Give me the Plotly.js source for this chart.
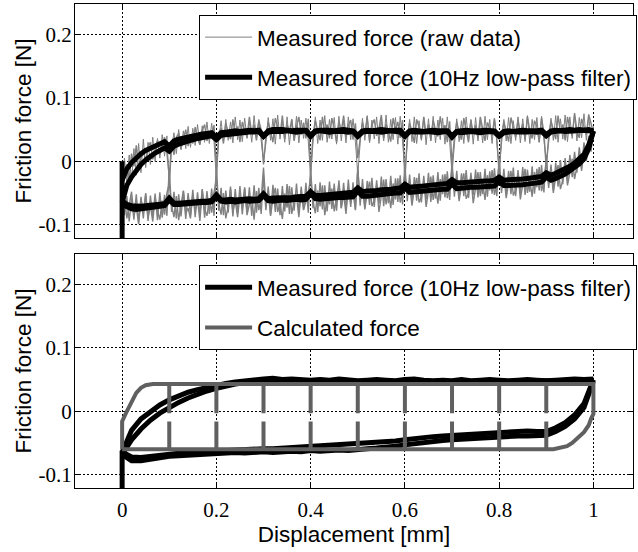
<!DOCTYPE html>
<html><head><meta charset="utf-8">
<script src="https://cdn.plot.ly/plotly-3.0.1.min.js"></script>
<style>html,body{margin:0;padding:0;background:#fff}#chart{width:638px;height:552px}</style>
</head><body><div id="chart"></div>
<script>
// ---- tick labels ----
const xTickVals=[0,0.2,0.4,0.6,0.8,1];
const xTickText=['0','0.2','0.4','0.6','0.8','1'];
const yTickVals=[-0.1,0,0.1,0.2];
const yTickText=['-0.1','0','0.1','0.2'];

// ---- series names ----
const nameRaw='Measured force (raw data)';
const nameFilt='Measured force (10Hz low-pass filter)';
const nameCalc='Calculated force';

// ---- displacement grids [mm] ----
const gridX=[0,0.01,0.02,0.03,0.04,0.05,0.06,0.07,0.08,0.09,0.1,0.11,0.12,0.13,0.14,0.15,0.16,0.17,0.18,0.19,0.2,0.21,0.22,0.23,0.24,0.25,0.26,0.27,0.28,0.29,0.3,0.31,0.32,0.33,0.34,0.35,0.36,0.37,0.38,0.39,0.4,0.41,0.42,0.43,0.44,0.45,0.46,0.47,0.48,0.49,0.5,0.51,0.52,0.53,0.54,0.55,0.56,0.57,0.58,0.59,0.6,0.61,0.62,0.63,0.64,0.65,0.66,0.67,0.68,0.69,0.7,0.71,0.72,0.73,0.74,0.75,0.76,0.77,0.78,0.79,0.8,0.81,0.82,0.83,0.84,0.85,0.86,0.87,0.88,0.89,0.9,0.91,0.92,0.93,0.94,0.95,0.96,0.97,0.98,0.99,1];
const gridRaw=[0,0.005,0.01,0.015,0.02,0.025,0.03,0.035,0.04,0.045,0.05,0.055,0.06,0.065,0.07,0.075,0.08,0.085,0.09,0.095,0.1,0.105,0.11,0.115,0.12,0.125,0.13,0.135,0.14,0.145,0.15,0.155,0.16,0.165,0.17,0.175,0.18,0.185,0.19,0.195,0.2,0.205,0.21,0.215,0.22,0.225,0.23,0.235,0.24,0.245,0.25,0.255,0.26,0.265,0.27,0.275,0.28,0.285,0.29,0.295,0.3,0.305,0.31,0.315,0.32,0.325,0.33,0.335,0.34,0.345,0.35,0.355,0.36,0.365,0.37,0.375,0.38,0.385,0.39,0.395,0.4,0.405,0.41,0.415,0.42,0.425,0.43,0.435,0.44,0.445,0.45,0.455,0.46,0.465,0.47,0.475,0.48,0.485,0.49,0.495,0.5,0.505,0.51,0.515,0.52,0.525,0.53,0.535,0.54,0.545,0.55,0.555,0.56,0.565,0.57,0.575,0.58,0.585,0.59,0.595,0.6,0.605,0.61,0.615,0.62,0.625,0.63,0.635,0.64,0.645,0.65,0.655,0.66,0.665,0.67,0.675,0.68,0.685,0.69,0.695,0.7,0.705,0.71,0.715,0.72,0.725,0.73,0.735,0.74,0.745,0.75,0.755,0.76,0.765,0.77,0.775,0.78,0.785,0.79,0.795,0.8,0.805,0.81,0.815,0.82,0.825,0.83,0.835,0.84,0.845,0.85,0.855,0.86,0.865,0.87,0.875,0.88,0.885,0.89,0.895,0.9,0.905,0.91,0.915,0.92,0.925,0.93,0.935,0.94,0.945,0.95,0.955,0.96,0.965,0.97,0.975,0.98,0.985,0.99,0.995,1];
const gridBottom=[0,0.02,0.04,0.06,0.08,0.1,0.12,0.14,0.16,0.18,0.2,0.22,0.24,0.26,0.28,0.3,0.32,0.34,0.36,0.38,0.4,0.42,0.44,0.46,0.48,0.5,0.52,0.54,0.56,0.58,0.6,0.62,0.64,0.66,0.68,0.7,0.72,0.74,0.76,0.78,0.8,0.82,0.84,0.86,0.88,0.9,0.92,0.94,0.96,0.98,1];
const startX=[0,0];
const topStartY=[-0.125,0.000];
const bottomStartY=[-0.125,-0.062];

// ---- top: raw measured force [N], two cycles ----
const rawUpper=[-0.020,0.005,-0.035,0.010,-0.030,0.020,-0.022,0.028,-0.018,0.035,-0.010,0.030,-0.005,0.038,0.000,0.036,0.005,0.042,0.008,0.040,
-0.040,0.020,0.045,0.012,0.050,0.018,0.048,0.020,0.055,0.022,0.052,0.025,0.058,0.027,0.056,0.030,0.062,0.028,0.060,0.032,
-0.030,0.035,0.064,0.030,0.066,0.033,0.062,0.029,0.070,0.034,0.065,0.031,0.068,0.036,0.063,0.030,0.072,0.035,0.066,0.032,
0.000,0.028,0.069,0.033,0.067,0.027,0.073,0.035,0.064,0.030,0.070,0.026,0.066,0.034,0.071,0.029,0.065,0.036,0.068,0.031,
-0.025,0.030,0.070,0.028,0.065,0.033,0.072,0.030,0.066,0.035,0.069,0.027,0.071,0.032,0.064,0.029,0.070,0.034,0.067,0.030,
-0.020,0.028,0.068,0.033,0.072,0.029,0.065,0.035,0.070,0.028,0.067,0.032,0.073,0.030,0.066,0.034,0.069,0.027,0.071,0.031,
-0.015,0.027,0.066,0.031,0.070,0.028,0.064,0.033,0.069,0.026,0.067,0.032,0.071,0.029,0.065,0.034,0.068,0.027,0.070,0.030,
-0.020,0.026,0.067,0.031,0.064,0.028,0.070,0.033,0.066,0.027,0.069,0.032,0.065,0.029,0.071,0.034,0.066,0.028,0.068,0.031,
-0.010,0.027,0.066,0.032,0.069,0.028,0.064,0.033,0.070,0.029,0.067,0.031,0.072,0.028,0.066,0.034,0.069,0.030,0.071,0.033,
0.000,0.029,0.068,0.033,0.072,0.030,0.067,0.035,0.073,0.031,0.070,0.036,0.074,0.032,0.069,0.037,0.075,0.033,0.071,0.036,0.050];
const rawLower=[-0.060,-0.085,-0.055,-0.095,-0.058,-0.092,-0.052,-0.096,-0.056,-0.090,-0.050,-0.094,-0.054,-0.088,-0.051,-0.093,-0.049,-0.089,-0.053,-0.086,
-0.010,-0.080,-0.048,-0.090,-0.052,-0.087,-0.046,-0.091,-0.050,-0.085,-0.045,-0.088,-0.049,-0.084,-0.044,-0.089,-0.047,-0.083,-0.043,-0.086,
-0.005,-0.078,-0.042,-0.085,-0.046,-0.081,-0.040,-0.087,-0.044,-0.082,-0.039,-0.084,-0.043,-0.080,-0.041,-0.086,-0.038,-0.081,-0.042,-0.083,
-0.022,-0.077,-0.040,-0.084,-0.037,-0.080,-0.043,-0.085,-0.039,-0.079,-0.036,-0.083,-0.041,-0.078,-0.035,-0.082,-0.040,-0.077,-0.034,-0.081,
-0.010,-0.074,-0.036,-0.080,-0.033,-0.076,-0.038,-0.079,-0.032,-0.075,-0.035,-0.078,-0.030,-0.074,-0.034,-0.077,-0.029,-0.072,-0.033,-0.076,
-0.008,-0.070,-0.028,-0.073,-0.031,-0.069,-0.026,-0.072,-0.030,-0.067,-0.024,-0.071,-0.028,-0.066,-0.023,-0.069,-0.027,-0.064,-0.022,-0.068,
-0.005,-0.063,-0.021,-0.066,-0.025,-0.062,-0.019,-0.065,-0.023,-0.060,-0.018,-0.064,-0.022,-0.059,-0.017,-0.062,-0.021,-0.057,-0.016,-0.061,
0.000,-0.056,-0.015,-0.059,-0.019,-0.055,-0.014,-0.058,-0.018,-0.053,-0.013,-0.057,-0.017,-0.052,-0.012,-0.056,-0.016,-0.051,-0.011,-0.055,
0.005,-0.050,-0.012,-0.054,-0.015,-0.052,-0.010,-0.055,-0.014,-0.050,-0.009,-0.053,-0.013,-0.048,-0.008,-0.051,-0.012,-0.046,-0.006,-0.049,
0.010,-0.042,-0.005,-0.045,-0.002,-0.040,0.002,-0.036,0.005,-0.030,0.010,-0.025,0.015,-0.018,0.022,-0.010,0.030,0.000,0.040,0.015,0.055];
const rawUpper2=[-0.040,-0.015,-0.005,-0.028,0.012,-0.008,0.025,-0.012,0.005,0.018,-0.002,0.022,0.030,0.003,0.015,0.033,0.010,0.025,0.038,0.014,
-0.025,0.030,0.010,0.038,0.044,0.020,0.033,0.050,0.024,0.040,0.028,0.054,0.036,0.026,0.048,0.058,0.032,0.045,0.038,0.057,
-0.010,0.040,0.052,0.028,0.060,0.045,0.035,0.066,0.042,0.055,0.030,0.062,0.048,0.038,0.070,0.044,0.058,0.033,0.064,0.050,
-0.005,0.038,0.062,0.045,0.030,0.068,0.052,0.040,0.072,0.035,0.058,0.047,0.066,0.032,0.055,0.070,0.042,0.061,0.036,0.067,
-0.015,0.040,0.064,0.050,0.033,0.070,0.045,0.058,0.036,0.068,0.052,0.030,0.063,0.047,0.072,0.038,0.056,0.065,0.034,0.060,
0.005,0.035,0.061,0.044,0.070,0.032,0.057,0.066,0.040,0.052,0.073,0.036,0.059,0.046,0.031,0.068,0.050,0.062,0.037,0.065,
-0.030,0.038,0.060,0.048,0.029,0.066,0.054,0.035,0.070,0.043,0.058,0.033,0.064,0.050,0.039,0.071,0.045,0.057,0.030,0.063,
-0.005,0.037,0.062,0.046,0.034,0.068,0.051,0.030,0.065,0.044,0.057,0.036,0.070,0.049,0.032,0.061,0.053,0.040,0.067,0.035,
-0.020,0.040,0.063,0.047,0.031,0.069,0.052,0.038,0.066,0.043,0.059,0.034,0.071,0.048,0.036,0.064,0.055,0.030,0.068,0.045,
-0.012,0.039,0.064,0.050,0.035,0.072,0.046,0.058,0.033,0.070,0.052,0.040,0.076,0.048,0.037,0.067,0.056,0.042,0.074,0.060,0.045];
const rawLower2=[-0.075,-0.058,-0.090,-0.066,-0.048,-0.085,-0.072,-0.099,-0.060,-0.080,-0.052,-0.088,-0.070,-0.095,-0.057,-0.078,-0.092,-0.062,-0.084,-0.050,
-0.035,-0.070,-0.088,-0.055,-0.093,-0.067,-0.047,-0.082,-0.074,-0.090,-0.052,-0.079,-0.061,-0.094,-0.045,-0.076,-0.086,-0.058,-0.081,-0.049,
-0.028,-0.066,-0.084,-0.050,-0.090,-0.071,-0.044,-0.079,-0.062,-0.088,-0.053,-0.074,-0.041,-0.085,-0.068,-0.057,-0.092,-0.047,-0.077,-0.060,
-0.010,-0.069,-0.048,-0.086,-0.058,-0.042,-0.080,-0.066,-0.091,-0.051,-0.073,-0.039,-0.083,-0.062,-0.055,-0.088,-0.045,-0.076,-0.064,-0.050,
-0.025,-0.063,-0.082,-0.046,-0.071,-0.038,-0.085,-0.057,-0.068,-0.043,-0.079,-0.060,-0.036,-0.074,-0.052,-0.083,-0.041,-0.066,-0.049,-0.077,
-0.015,-0.058,-0.040,-0.076,-0.049,-0.032,-0.071,-0.062,-0.037,-0.080,-0.054,-0.029,-0.068,-0.045,-0.074,-0.035,-0.060,-0.027,-0.065,-0.048,
-0.020,-0.054,-0.033,-0.070,-0.044,-0.026,-0.065,-0.056,-0.030,-0.072,-0.047,-0.024,-0.061,-0.039,-0.067,-0.028,-0.052,-0.020,-0.058,-0.041,
-0.012,-0.048,-0.027,-0.063,-0.038,-0.019,-0.059,-0.050,-0.024,-0.066,-0.042,-0.017,-0.055,-0.033,-0.061,-0.022,-0.046,-0.014,-0.053,-0.036,
-0.005,-0.043,-0.022,-0.058,-0.034,-0.015,-0.054,-0.045,-0.019,-0.060,-0.037,-0.012,-0.050,-0.029,-0.056,-0.017,-0.041,-0.009,-0.047,-0.031,
0.000,-0.036,-0.014,-0.050,-0.025,-0.006,-0.044,-0.030,-0.002,-0.038,-0.018,0.004,-0.028,-0.008,0.012,-0.015,0.020,0.002,0.032,0.022,0.050];

// ---- top: filtered measured force [N], two cycles ----
const filtUpperA=[-0.030,-0.012,-0.002,0.006,0.012,0.017,0.021,0.025,0.028,0.031,
0.024,0.032,0.035,0.037,0.039,0.041,0.042,0.043,0.044,0.045,
0.038,0.045,0.046,0.047,0.048,0.047,0.048,0.049,0.048,0.049,
0.040,0.048,0.050,0.049,0.050,0.049,0.048,0.049,0.050,0.049,
0.041,0.048,0.049,0.050,0.049,0.048,0.049,0.050,0.049,0.048,
0.041,0.048,0.049,0.048,0.049,0.050,0.049,0.048,0.049,0.049,
0.041,0.048,0.049,0.048,0.047,0.048,0.049,0.048,0.047,0.048,
0.040,0.047,0.048,0.049,0.048,0.047,0.048,0.049,0.048,0.048,
0.041,0.047,0.048,0.047,0.048,0.049,0.048,0.047,0.048,0.049,
0.042,0.048,0.049,0.048,0.049,0.050,0.049,0.050,0.049,0.050,
0.048];
const filtLowerA=[-0.068,-0.072,-0.075,-0.076,-0.075,-0.074,-0.073,-0.072,-0.071,-0.070,
-0.061,-0.068,-0.068,-0.067,-0.067,-0.066,-0.066,-0.065,-0.065,-0.064,
-0.056,-0.063,-0.064,-0.063,-0.064,-0.063,-0.062,-0.063,-0.062,-0.062,
-0.054,-0.062,-0.063,-0.062,-0.061,-0.062,-0.061,-0.060,-0.061,-0.060,
-0.051,-0.059,-0.060,-0.059,-0.058,-0.058,-0.057,-0.057,-0.056,-0.056,
-0.047,-0.055,-0.055,-0.054,-0.053,-0.053,-0.052,-0.051,-0.050,-0.050,
-0.042,-0.049,-0.048,-0.048,-0.047,-0.046,-0.046,-0.045,-0.044,-0.044,
-0.036,-0.043,-0.042,-0.042,-0.041,-0.041,-0.040,-0.040,-0.039,-0.039,
-0.032,-0.038,-0.038,-0.038,-0.037,-0.037,-0.036,-0.035,-0.034,-0.033,
-0.025,-0.030,-0.027,-0.024,-0.020,-0.015,-0.010,-0.004,0.004,0.020,
0.048];
const filtUpperB=[-0.065,-0.038,-0.025,-0.014,-0.005,0.002,0.008,0.013,0.017,0.021,
0.016,0.024,0.027,0.030,0.032,0.034,0.036,0.038,0.039,0.040,
0.034,0.041,0.042,0.043,0.044,0.045,0.045,0.046,0.046,0.047,
0.039,0.046,0.047,0.048,0.047,0.048,0.047,0.046,0.047,0.048,
0.039,0.047,0.048,0.047,0.046,0.047,0.048,0.047,0.046,0.047,
0.039,0.046,0.047,0.048,0.047,0.046,0.047,0.048,0.047,0.046,
0.039,0.047,0.046,0.045,0.046,0.047,0.046,0.045,0.046,0.047,
0.038,0.046,0.045,0.046,0.047,0.046,0.045,0.046,0.047,0.046,
0.039,0.045,0.046,0.047,0.046,0.045,0.046,0.047,0.046,0.047,
0.040,0.046,0.047,0.048,0.047,0.048,0.047,0.048,0.049,0.048,
0.047];
const filtLowerB=[-0.062,-0.068,-0.070,-0.071,-0.071,-0.070,-0.069,-0.068,-0.068,-0.067,
-0.058,-0.066,-0.066,-0.065,-0.065,-0.064,-0.064,-0.063,-0.063,-0.062,
-0.053,-0.061,-0.061,-0.060,-0.061,-0.060,-0.060,-0.059,-0.060,-0.059,
-0.051,-0.059,-0.058,-0.058,-0.058,-0.057,-0.057,-0.056,-0.056,-0.055,
-0.048,-0.054,-0.054,-0.053,-0.053,-0.052,-0.051,-0.051,-0.050,-0.049,
-0.042,-0.048,-0.047,-0.047,-0.046,-0.045,-0.045,-0.044,-0.043,-0.042,
-0.036,-0.041,-0.040,-0.040,-0.039,-0.038,-0.037,-0.037,-0.036,-0.035,
-0.029,-0.034,-0.034,-0.033,-0.033,-0.032,-0.032,-0.031,-0.031,-0.030,
-0.025,-0.030,-0.029,-0.029,-0.028,-0.028,-0.027,-0.026,-0.025,-0.024,
-0.018,-0.022,-0.019,-0.016,-0.012,-0.008,-0.003,0.003,0.011,0.026,
0.047];

// ---- bottom: filtered measured force [N], two cycles ----
const botUpperC=[-0.065,-0.030,-0.012,0.000,0.010,0.018,0.025,0.030,0.034,0.038,
0.041,0.044,0.046,0.048,0.050,0.051,0.052,0.050,0.051,0.050,
0.049,0.050,0.049,0.051,0.050,0.048,0.049,0.050,0.049,0.048,
0.050,0.051,0.049,0.048,0.049,0.048,0.050,0.048,0.049,0.050,
0.049,0.048,0.049,0.050,0.049,0.048,0.049,0.050,0.051,0.050,
0.051];
const botUpperD=[-0.068,-0.045,-0.028,-0.014,-0.003,0.006,0.014,0.021,0.027,0.032,
0.036,0.040,0.043,0.045,0.047,0.048,0.047,0.049,0.048,0.047,
0.048,0.047,0.046,0.048,0.047,0.046,0.047,0.048,0.047,0.046,
0.047,0.048,0.046,0.047,0.048,0.046,0.047,0.046,0.048,0.047,
0.046,0.047,0.048,0.047,0.046,0.048,0.047,0.048,0.049,0.048,
0.049];
const botLowerC=[-0.068,-0.078,-0.078,-0.075,-0.073,-0.071,-0.070,-0.069,-0.068,-0.067,
-0.066,-0.066,-0.065,-0.066,-0.064,-0.064,-0.065,-0.064,-0.063,-0.064,
-0.062,-0.063,-0.062,-0.061,-0.062,-0.060,-0.059,-0.058,-0.057,-0.055,
-0.053,-0.051,-0.050,-0.048,-0.046,-0.045,-0.044,-0.043,-0.042,-0.041,
-0.040,-0.040,-0.039,-0.039,-0.038,-0.038,-0.032,-0.024,-0.012,0.006,
0.048];
const botLowerD=[-0.064,-0.072,-0.073,-0.071,-0.069,-0.067,-0.066,-0.065,-0.064,-0.063,
-0.062,-0.062,-0.061,-0.060,-0.060,-0.059,-0.059,-0.058,-0.058,-0.057,
-0.056,-0.056,-0.055,-0.054,-0.053,-0.052,-0.051,-0.050,-0.048,-0.047,
-0.045,-0.043,-0.042,-0.040,-0.039,-0.038,-0.037,-0.036,-0.035,-0.034,
-0.033,-0.032,-0.031,-0.031,-0.032,-0.032,-0.026,-0.018,-0.006,0.012,
0.050];

// ---- bottom: calculated force path ----
const calcX=[0,0,0.01,0.02,0.03,0.04,0.05,0.065,
0.1,0.1,0.1,0.2,0.2,0.2,0.3,0.3,0.3,0.4,0.4,0.4,0.5,0.5,0.5,0.6,0.6,0.6,0.7,0.7,0.7,0.8,0.8,0.8,0.9,0.9,0.9,
1,1,0.995,0.99,0.98,0.968,0.955,0.944,0.93,0.915,
0.9,0.9,0.9,0.8,0.8,0.8,0.7,0.7,0.7,0.6,0.6,0.6,0.5,0.5,0.5,0.4,0.4,0.4,0.3,0.3,0.3,0.2,0.2,0.2,0.1,0.1,0.1,0];
const calcY=[-0.060,-0.016,0.000,0.016,0.029,0.037,0.041,0.043,
0.043,-0.003,0.043,0.043,-0.003,0.043,0.043,-0.003,0.043,0.043,-0.003,0.043,0.043,-0.003,0.043,0.043,-0.003,0.043,0.043,-0.003,0.043,0.043,-0.003,0.043,0.043,-0.003,0.043,
0.043,-0.004,-0.012,-0.022,-0.033,-0.042,-0.050,-0.055,-0.058,-0.060,
-0.060,-0.016,-0.060,-0.060,-0.016,-0.060,-0.060,-0.016,-0.060,-0.060,-0.016,-0.060,-0.060,-0.016,-0.060,-0.060,-0.016,-0.060,-0.060,-0.016,-0.060,-0.060,-0.016,-0.060,-0.060,-0.016,-0.060,-0.060];

const RAW='#808080', BLK='#000000', CALC='#606060';
function tr(x,y,xa,ya,color,width,opts){
  return Object.assign({type:'scatter',mode:'lines',x:x,y:y,xaxis:xa,yaxis:ya,
    line:{color:color,width:width},showlegend:false,hoverinfo:'skip'},opts||{});
}
const data=[
  tr(gridRaw,rawUpper,'x','y',RAW,1,{name:nameRaw,showlegend:true,legend:'legend',legendgroup:'g1'}),
  tr(gridRaw,rawLower,'x','y',RAW,1.4),
  tr(gridRaw,rawUpper2,'x','y',RAW,1.4),
  tr(gridRaw,rawLower2,'x','y',RAW,1.4),
  tr(startX,topStartY,'x','y',BLK,5),
  tr(gridX,filtUpperA,'x','y',BLK,5,{name:nameFilt,showlegend:true,legend:'legend',legendgroup:'g2'}),
  tr(gridX,filtLowerA,'x','y',BLK,5),
  tr(gridX,filtUpperB,'x','y',BLK,5),
  tr(gridX,filtLowerB,'x','y',BLK,5),
  tr(startX,bottomStartY,'x2','y2',BLK,5),
  tr(gridBottom,botUpperC,'x2','y2',BLK,5,{name:nameFilt,showlegend:true,legend:'legend2',legendgroup:'g3'}),
  tr(gridBottom,botLowerC,'x2','y2',BLK,5),
  tr(gridBottom,botUpperD,'x2','y2',BLK,5),
  tr(gridBottom,botLowerD,'x2','y2',BLK,5),
  tr(calcX,calcY,'x2','y2',CALC,4,{name:nameCalc,showlegend:true,legend:'legend2',legendgroup:'g4'})
];
const tickFont={family:'Liberation Serif',size:21,color:'#000'};
const sansFont={family:'Liberation Sans',size:22.5,color:'#000'};
function ax(extra){
  return Object.assign({showgrid:true,gridcolor:'#000',gridwidth:1,griddash:'2px,2px',zeroline:false,
    showline:true,linecolor:'#000',linewidth:1,mirror:'ticks',ticks:'inside',ticklen:6,tickwidth:1,tickcolor:'#000',
    tickfont:tickFont,tickmode:'array'},extra);
}
const legendCommon={bgcolor:'#fff',bordercolor:'#000',borderwidth:1,font:sansFont,xanchor:'left',yanchor:'top',
  itemwidth:47,traceorder:'grouped',tracegroupgap:8,itemclick:false};
const layout={
  width:638,height:552,paper_bgcolor:'#fff',plot_bgcolor:'#fff',
  font:{family:'Liberation Sans',color:'#000'},
  margin:{l:75,r:1,t:4,b:64},
  showlegend:true,
  xaxis:ax({domain:[0,1],anchor:'y',range:[-0.1,1.084],tickvals:xTickVals,ticktext:xTickText,showticklabels:false}),
  yaxis:ax({domain:[0.5165,1],anchor:'x',range:[-0.121,0.248],tickvals:yTickVals,ticktext:yTickText,ticklabelstandoff:-2,
    title:{text:'Friction force [N]',font:sansFont,standoff:0}}),
  xaxis2:ax({domain:[0,1],anchor:'y2',range:[-0.1,1.084],tickvals:xTickVals,ticktext:xTickText,ticklabelstandoff:3,
    title:{text:'Displacement [mm]',font:sansFont,standoff:3}}),
  yaxis2:ax({domain:[0,0.4835],anchor:'x2',range:[-0.121,0.248],tickvals:yTickVals,ticktext:yTickText,ticklabelstandoff:-2,
    title:{text:'Friction force [N]',font:sansFont,standoff:0}}),
  legend:Object.assign({x:0.2224,y:0.9773},legendCommon),
  legend2:Object.assign({x:0.2224,y:0.4607},legendCommon)
};
Plotly.newPlot('chart',data,layout,{staticPlot:true,displayModeBar:false});
</script>
</body></html>
